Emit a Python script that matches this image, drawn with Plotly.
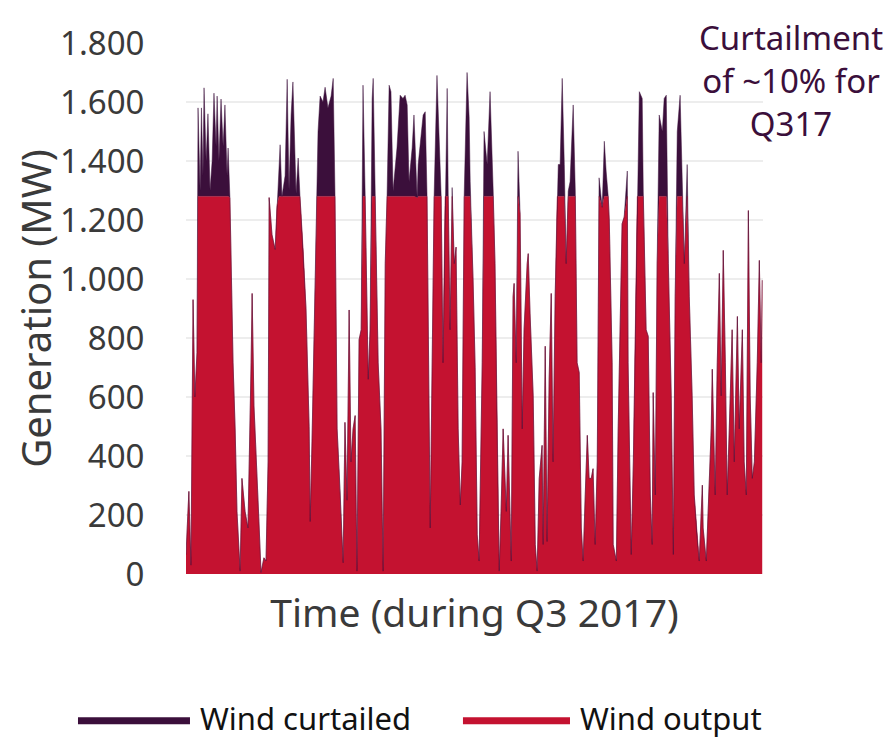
import plotly.graph_objects as go

# Hour of Q3 2017 (0 = 1 July 00:00) at which each reading is taken
hours = [0, 11, 19, 27, 34, 42, 46, 54, 59, 65, 69, 77, 84, 92, 100, 107, 115, 119, 126, 134,
         142, 149, 157, 161, 168, 172, 180,
         188, 195, 207, 214, 226, 237, 249, 253, 260, 268, 279, 287, 298, 306, 314, 318, 329, 341, 348, 356,
         360, 367, 379, 387, 394, 402, 409, 421, 429, 436, 448, 459, 471, 475, 482, 494, 501, 505, 513, 524,
         532, 543, 555, 563, 570, 578, 589, 601, 608, 616, 624, 631, 639, 647, 654, 662, 670, 677, 685, 693,
         697, 704, 712, 716, 723, 735, 746, 754, 762, 769, 777, 784, 792, 800, 807, 819, 830, 838, 846, 853,
         865, 872, 884, 888, 899, 907, 915, 922, 934, 941, 949, 960, 968, 976, 983, 991, 999, 1003, 1010, 1018,
         1026, 1033, 1041, 1049, 1056, 1064, 1075, 1083, 1087, 1098, 1106, 1114, 1121, 1133, 1140, 1152, 1163, 1175, 1182, 1190,
         1198, 1205, 1213, 1225, 1232, 1244, 1251, 1255, 1263, 1270, 1278, 1286, 1293, 1305, 1309, 1316, 1328, 1336, 1343, 1351,
         1362, 1366, 1374, 1381, 1389, 1397, 1404, 1412, 1420, 1424, 1431, 1439, 1447, 1454, 1462, 1469, 1481, 1489, 1496, 1504,
         1512, 1519, 1527, 1535, 1542, 1550, 1557, 1565, 1573, 1580, 1592, 1600, 1607, 1615, 1619, 1630, 1634, 1646, 1653, 1668,
         1676, 1688, 1691, 1703, 1711, 1718, 1726, 1734, 1745, 1749, 1760, 1768, 1776, 1783, 1787, 1795, 1802, 1810, 1822, 1829,
         1837, 1845, 1856, 1864, 1871, 1879, 1890, 1898, 1906, 1917, 1925, 1936, 1944, 1955, 1963, 1975, 1978, 1990, 1998, 2009,
         2013, 2024, 2032, 2040, 2047, 2055, 2063, 2070, 2078, 2089, 2097, 2109, 2116, 2128, 2135, 2143, 2151, 2158, 2166, 2174,
         2185, 2193, 2200, 2204]

# Wind output (MW)
wind_output = [66, 280, 30, 930, 600, 750, 1280, 1280, 1280, 1280, 1280, 1280, 1280, 1280, 1280, 1280, 1280, 1280, 1280, 1280,
               1280, 1280, 1280, 1280, 1276, 1052, 716,
               492, 212, 10, 324, 212, 156, 716, 951, 570, 380, 178, 5, 55, 44, 380, 1276, 1150, 1100, 1250, 1280,
               1280, 1280, 1280, 1280, 1280, 1280, 1280, 1280, 1280, 1280, 1100, 900, 500, 178, 450, 1000, 1280, 1280, 1280, 1280,
               1280, 1280, 1280, 1280, 1280, 492, 290, 38, 514, 250, 895, 380, 492, 537, 10, 794, 828, 1280, 1280, 940,
               660, 828, 1280, 1280, 1280, 716, 492, 10, 1052, 1280, 1280, 1280, 1280, 1280, 1280, 1280, 1280, 1280, 1280, 1280,
               1280, 1280, 1276, 1280, 1280, 1280, 1280, 1280, 156, 604, 1280, 1280, 1280, 1280, 716, 1280, 1280, 1280, 828, 1280,
               1052, 1108, 492, 234, 380, 1280, 1280, 1280, 1280, 1000, 700, 133, 44, 716, 1280, 1280, 1280, 1280, 1052, 492,
               10, 212, 492, 212, 470, 44, 940, 985, 716, 1280, 1220, 492, 828, 1052, 1086, 884, 604, 100, 10, 324,
               436, 100, 772, 110, 660, 951, 380, 940, 1280, 1280, 1280, 1280, 1280, 1052, 1280, 1280, 1280, 1280, 716, 683,
               156, 44, 268, 470, 324, 324, 357, 100, 380, 1280, 1243, 1280, 1280, 1280, 1200, 716, 100, 44, 492, 1187,
               1210, 1280, 716, 66, 380, 772, 1280, 1280, 1280, 1280, 828, 806, 268, 100, 615, 268, 1052, 1280, 1280, 1280,
               1280, 1052, 604, 66, 940, 1280, 1280, 1280, 1052, 1280, 940, 604, 268, 122, 44, 301, 156, 44, 212, 492,
               694, 268, 716, 1019, 604, 1097, 716, 268, 492, 828, 380, 873, 492, 828, 380, 268, 1232, 604, 324, 380,
               716, 1063, 716, 996]

# Wind curtailed (MW), stacked on top of the output
wind_curtailed = [0, 0, 0, 0, 0, 0, 300, 20, 300, 70, 368, 120, 280, 20, 120, 350, 170, 340, 120, 330,
                  170, 310, 70, 164, 0, 0, 0,
                  0, 0, 0, 0, 0, 0, 0, 0, 0, 0, 0, 0, 0, 0, 0, 0, 0, 0, 0, 120,
                  175, 0, 70, 397, 20, 276, 388, 10, 130, 0, 0, 0, 0, 0, 0, 0, 0, 220, 340, 320,
                  370, 300, 340, 400, 0, 0, 0, 0, 0, 0, 0, 0, 0, 0, 0, 0, 0, 377, 18, 0,
                  0, 0, 332, 400, 50, 0, 0, 0, 0, 0, 377, 355, 18, 108, 164, 343, 332, 343, 310, 50,
                  164, 276, 0, 108, 220, 276, 287, 0, 0, 0, 0, 410, 164, 0, 0, 0, 366, 0, 0, 30,
                  0, 0, 0, 0, 0, 0, 420, 270, 50, 0, 0, 0, 0, 0, 220, 108, 355, 18, 0, 0,
                  0, 0, 0, 0, 0, 0, 0, 0, 0, 153, 0, 0, 0, 0, 0, 0, 0, 0, 0, 0,
                  0, 0, 0, 0, 0, 0, 0, 0, 0, 108, 108, 400, 108, 0, 18, 50, 310, 18, 0, 0,
                  0, 0, 0, 0, 0, 0, 0, 0, 0, 63, 0, 187, 86, 0, 0, 0, 0, 0, 0, 0,
                  0, 86, 0, 0, 0, 0, 0, 355, 332, 18, 0, 0, 0, 0, 0, 0, 0, 276, 220, 332,
                  343, 0, 0, 0, 0, 220, 343, 18, 0, 108, 0, 0, 0, 0, 0, 0, 0, 0, 0, 0,
                  0, 0, 0, 0, 0, 0, 0, 0, 0, 0, 0, 0, 0, 0, 0, 0, 0, 0, 0, 0,
                  0, 0, 0, 0]

y_ticks = [0, 200, 400, 600, 800, 1000, 1200, 1400, 1600, 1800]

RED = "#C41230"
PURPLE = "#3B0F3B"
FONT = "Noto Sans"
TXT = "#3A3A3A"

fig = go.Figure()
fig.add_trace(go.Scatter(x=hours, y=wind_output, name="Wind output", mode="lines",
                         stackgroup="gen", line=dict(width=0.5, color=RED), fillcolor=RED))
fig.add_trace(go.Scatter(x=hours, y=wind_curtailed, name="Wind curtailed", mode="lines",
                         stackgroup="gen", line=dict(width=0.5, color=PURPLE), fillcolor=PURPLE))

# custom legend (long line samples as in the original)
LEG_Y = -0.2766
LEG_TXT_Y = -0.2710
shapes = [
    dict(type="line", xref="paper", yref="paper", x0=-0.1872, x1=0.0069, y0=LEG_Y, y1=LEG_Y,
         line=dict(color=PURPLE, width=7)),
    dict(type="line", xref="paper", yref="paper", x0=0.480, x1=0.6655, y0=LEG_Y, y1=LEG_Y,
         line=dict(color=RED, width=7)),
]
annotations = [
    dict(text="Wind curtailed", xref="paper", yref="paper", x=0.0208, y=LEG_TXT_Y, xanchor="left",
         yanchor="middle", showarrow=False, font=dict(family=FONT, size=31, color="#111111")),
    dict(text="Wind output", xref="paper", yref="paper", x=0.6794, y=LEG_TXT_Y, xanchor="left",
         yanchor="middle", showarrow=False, font=dict(family=FONT, size=31, color="#111111")),
    dict(text="Curtailment<br>of ~10% for<br>Q317", xref="paper", yref="paper", x=1.0485, y=1.056,
         xanchor="center", yanchor="top", align="center", showarrow=False,
         font=dict(family=FONT, size=33, color=PURPLE)),
]

fig.update_layout(
    width=884, height=732,
    margin=dict(l=178, r=129, t=31, b=166),
    paper_bgcolor="white", plot_bgcolor="white",
    separators=",.",
    showlegend=False,
    shapes=shapes, annotations=annotations,
    font=dict(family=FONT, color=TXT),
)
fig.update_xaxes(range=[0, 2207], showticklabels=False, showgrid=False, zeroline=False,
                 showline=False, ticks="",
                 title=dict(text="Time (during Q3 2017)", font=dict(family=FONT, size=39, color=TXT),
                            standoff=25))
fig.update_yaxes(range=[0, 1800], tickvals=y_ticks, tickformat=",d", showgrid=True,
                 gridcolor="#EDEDED", gridwidth=1.5, zeroline=False, showline=False,
                 ticks="outside", ticklen=34, tickcolor="rgba(0,0,0,0)",
                 tickfont=dict(family=FONT, size=33, color=TXT),
                 title=dict(text="Generation (MW)", font=dict(family=FONT, size=40, color=TXT),
                            standoff=8))

fig.write_html("out.html")
